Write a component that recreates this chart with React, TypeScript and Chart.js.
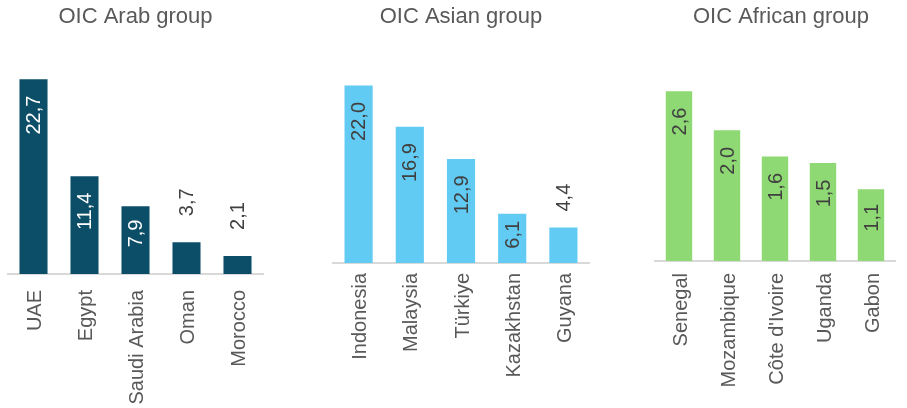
import React, { useEffect, useRef } from "react";
import { Chart, registerables } from "chart.js";

Chart.register(...registerables);

const FONT = "'Liberation Sans', Arial, sans-serif";

const arabTitle = "OIC Arab group";
const arabCountries = ["UAE", "Egypt", "Saudi Arabia", "Oman", "Morocco"];
const arabValues = [22.7, 11.4, 7.9, 3.7, 2.1];

const asianTitle = "OIC Asian group";
const asianCountries = ["Indonesia", "Malaysia", "Türkiye", "Kazakhstan", "Guyana"];
const asianValues = [22.0, 16.9, 12.9, 6.1, 4.4];

const africanTitle = "OIC African group";
const africanCountries = ["Senegal", "Mozambique", "Côte d'Ivoire", "Uganda", "Gabon"];
const africanValues = [2.6, 2.0, 1.6, 1.5, 1.1];

const fmt = (v: number) => v.toFixed(1).replace(".", ",");

const valueLabelPlugin = {
  id: "valueLabels",
  afterDatasetsDraw(chart: any, _args: any, opts: any) {
    const ctx = chart.ctx;
    const meta = chart.getDatasetMeta(0);
    const data = chart.data.datasets[0].data as number[];
    ctx.save();
    ctx.font = `${opts.size}px ${FONT}`;
    meta.data.forEach((bar: any, i: number) => {
      const { x, y, base } = bar.getProps(["x", "y", "base"], true);
      const text = fmt(data[i]);
      const w = ctx.measureText(text).width;
      const h = base - y;
      const inside = h >= w + 18;
      let anchorY: number;
      let align: CanvasTextAlign;
      let color: string;
      if (inside) {
        anchorY = y + Math.min(16.5, (h - w) / 3);
        align = "right";
        color = opts.insideColor;
      } else {
        anchorY = y - opts.outsideGap;
        align = "left";
        color = opts.outsideColor;
      }
      ctx.save();
      ctx.translate(x + (opts.shift || 0), anchorY);
      ctx.rotate(-Math.PI / 2);
      ctx.textAlign = align;
      ctx.textBaseline = "middle";
      ctx.fillStyle = color;
      ctx.fillText(text, 0, 0);
      ctx.restore();
    });
    ctx.restore();
  },
};

type PanelProps = {
  left: number;
  width: number;
  title: string;
  labels: string[];
  values: number[];
  color: string;
  yMax: number;
  padLeft: number;
  padRight: number;
  axisHeight: number;
  tickPad: number;
  insideColor: string;
  outsideGap: number;
};

function Panel(p: PanelProps) {
  const ref = useRef<HTMLCanvasElement | null>(null);
  useEffect(() => {
    if (!ref.current) return;
    const chart = new Chart(ref.current, {
      type: "bar",
      data: {
        labels: p.labels,
        datasets: [
          {
            data: p.values,
            backgroundColor: p.color,
            borderWidth: 0,
            barPercentage: 0.55,
            categoryPercentage: 1,
          },
        ],
      },
      options: {
        responsive: false,
        animation: false,
        events: [],
        layout: { padding: { left: p.padLeft, right: p.padRight, top: 0, bottom: 0 } },
        plugins: {
          legend: { display: false },
          tooltip: { enabled: false },
          title: {
            display: true,
            text: p.title,
            color: "#595959",
            font: { family: FONT, size: 22, weight: "normal" },
            padding: { top: 4, bottom: 19.6 },
          },
          valueLabels: {
            size: 20,
            insideColor: p.insideColor,
            outsideColor: "#404040",
            outsideGap: p.outsideGap,
            shift: 1,
          },
        } as any,
        scales: {
          x: {
            grid: { display: false, drawTicks: false, tickLength: 0 },
            border: { display: true, color: "#D9D9D9", width: 2 },
            ticks: {
              color: "#595959",
              font: { family: FONT, size: 20 },
              minRotation: 90,
              maxRotation: 90,
              padding: p.tickPad,
              labelOffset: 2,
              autoSkip: false,
            },
            afterFit: (scale: any) => {
              scale.height = p.axisHeight;
            },
          },
          y: { display: false, min: 0, max: p.yMax },
        },
      },
      plugins: [valueLabelPlugin as any],
    });
    return () => chart.destroy();
  }, []);
  return (
    <canvas
      ref={ref}
      width={p.width}
      height={408}
      style={{ position: "absolute", left: p.left, top: 0, width: p.width, height: 408 }}
    />
  );
}

export default function App() {
  return (
    <div
      style={{
        position: "fixed",
        left: 0,
        top: 0,
        width: 907,
        height: 408,
        background: "#ffffff",
        overflow: "hidden",
      }}
    >
      <Panel
        left={0}
        width={300}
        title={arabTitle}
        labels={arabCountries}
        values={arabValues}
        color="#0C4E68"
        yMax={26.1}
        padLeft={8}
        padRight={37}
        axisHeight={134}
        tickPad={16}
        insideColor="#FFFFFF"
        outsideGap={26}
      />
      <Panel
        left={300}
        width={310}
        title={asianTitle}
        labels={asianCountries}
        values={asianValues}
        color="#61CBF4"
        yMax={26.4}
        padLeft={33}
        padRight={21}
        axisHeight={145}
        tickPad={10}
        insideColor="#404040"
        outsideGap={16}
      />
      <Panel
        left={610}
        width={297}
        title={africanTitle}
        labels={africanCountries}
        values={africanValues}
        color="#8ED973"
        yMax={3.23}
        padLeft={45}
        padRight={0}
        axisHeight={147}
        tickPad={12}
        insideColor="#404040"
        outsideGap={16}
      />
    </div>
  );
}
